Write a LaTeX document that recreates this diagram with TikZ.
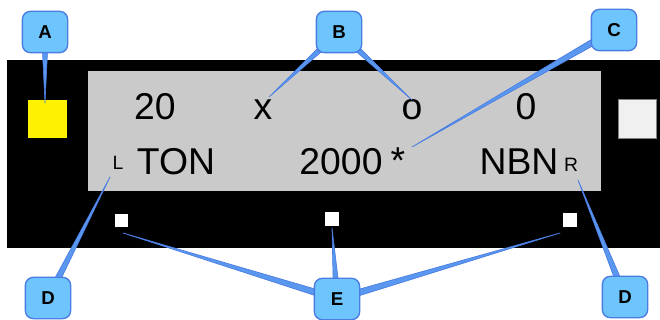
\documentclass[tikz,border=0pt]{standalone}
\usepackage{fontspec}
\setmainfont{Liberation Sans}
\usetikzlibrary{calc,positioning}
\definecolor{panelgray}{HTML}{CACACA}
\definecolor{calloutfill}{HTML}{6EC4FC}
\definecolor{calloutedge}{HTML}{4A7CE2}
\definecolor{wedgefill}{HTML}{5A98F0}
\pgfdeclarelayer{front}
\pgfsetlayers{main,front}
\newcommand{\wedgeto}[2]{\filldraw [fill=wedgefill, draw=calloutedge, line width=0.5pt, line join=round] ($(#1)!2.6pt!90:(#2)$) -- (#2) -- ($(#1)!2.6pt!-90:(#2)$) -- cycle;}

\begin{document}
\begin{tikzpicture}[x=0.75pt, y=-0.75pt,
	callout/.style={draw=calloutedge, fill=calloutfill, line width=1pt, rounded corners=6pt, minimum width=34pt, minimum height=31pt, inner sep=0pt, font=\fontsize{14}{16}\selectfont\bfseries},
	big/.style={anchor=base, inner sep=0pt, font=\fontsize{28}{30}\selectfont},
	small/.style={anchor=base, inner sep=0pt, font=\fontsize{14.5}{16}\selectfont},
	hole/.style={fill=white, minimum size=10pt, inner sep=0pt}]
	\useasboundingbox (0,0) rectangle (660,320);
	\fill (7,60) rectangle (660,248);
	\fill [panelgray] (88,71) rectangle (601,191);
	\node [fill=yellow, minimum size=29pt, inner sep=0pt] (lampL) at (47.5,119) {};
	\node [draw=gray, fill=gray!12, line width=0.6pt, minimum size=29pt, inner sep=0pt] (lampR) at (637.5,119) {};
	\node [big] (tens) at (155,120) {20};
	\node [big] (xmark) at (263,120) {x};
	\node [big] (omark) at (412,120) {o};
	\node [big] (zero) at (526,120) {0};
	\node [small] (lft) at (118,170) {L};
	\node [big] (ton) at (176,175) {TON};
	\node [big] (count) at (341,175) {2000};
	\node [big] (star) at (398,174) {*};
	\node [big] (nbn) at (519,175) {NBN};
	\node [small] (rgt) at (571,172) {R};
	\node [hole] (keyL) at (121.5,220.5) {};
	\node [hole] (keyM) at (332,219) {};
	\node [hole] (keyR) at (570,220) {};
	\begin{pgfonlayer}{front}
		\node [callout] (A) at (45,32) {A};
		\node [callout] (B) at (339,32) {B};
		\node [callout] (C) at (614,30) {C};
		\node [callout] (D1) at (48,298) {D};
		\node [callout] (E) at (337,299) {E};
		\node [callout] (D2) at (625,297) {D};
	\end{pgfonlayer}
	\coordinate (tipA) at (45,103);
	\coordinate (tipX) at (269,97);
	\coordinate (tipO) at (412,100);
	\coordinate (tipC) at (412,147);
	\coordinate (tipL) at (110,177);
	\coordinate (tipR) at (578,180);
	\coordinate (tipE1) at (123,233);
	\coordinate (tipE2) at (332,228);
	\coordinate (tipE3) at (560,233);
	\wedgeto{A}{tipA}
	\wedgeto{B}{tipX}
	\wedgeto{B}{tipO}
	\wedgeto{C}{tipC}
	\wedgeto{D1}{tipL}
	\wedgeto{D2}{tipR}
	\wedgeto{E}{tipE1}
	\wedgeto{E}{tipE2}
	\wedgeto{E}{tipE3}
\end{tikzpicture}
\end{document}
